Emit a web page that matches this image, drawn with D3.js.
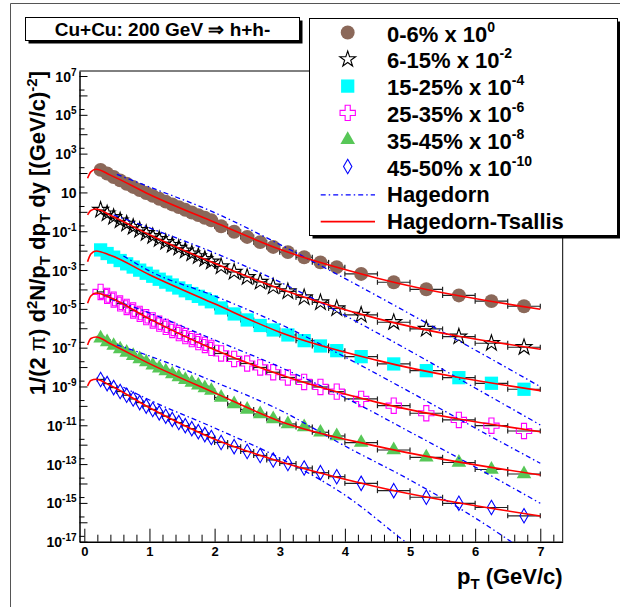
<!DOCTYPE html>
<html>
<head>
<meta charset="utf-8">
<script src="https://cdn.jsdelivr.net/npm/d3@7"></script>
<style>
body { margin: 0; background: #fff; }
text { font-family: "Liberation Sans", Arial, Helvetica, sans-serif; font-weight: bold; }
</style>
</head>
<body>
<div id="chart"></div>
<script>
// ---- data ----
var pt = [0.25, 0.35, 0.45, 0.55, 0.65, 0.75, 0.85, 0.95, 1.05, 1.15, 1.25, 1.35, 1.45, 1.55, 1.65, 1.75, 1.85, 1.95,
          2.1, 2.3, 2.5, 2.7, 2.9, 3.125, 3.375, 3.625, 3.875, 4.25, 4.75, 5.25, 5.75, 6.25, 6.75];
var ptErr = [0.05, 0.05, 0.05, 0.05, 0.05, 0.05, 0.05, 0.05, 0.05, 0.05, 0.05, 0.05, 0.05, 0.05, 0.05, 0.05, 0.05, 0.05,
             0.1, 0.1, 0.1, 0.1, 0.1, 0.125, 0.125, 0.125, 0.125, 0.25, 0.25, 0.25, 0.25, 0.25, 0.25];

var centLabels = ["0-6%", "6-15%", "15-25%", "25-35%", "35-45%", "45-50%"];
var scaleExp = [0, -2, -4, -6, -8, -10];

// invariant yields (unscaled)
var yield0_6 = [145, 94.2, 62.2, 41.6, 28.1, 19.2, 13.3, 9.31, 6.61, 4.68, 3.36, 2.40, 1.75, 1.27, 0.920, 0.676, 0.497, 0.365,
                0.181, 0.0942, 0.0508, 0.0274, 0.0155, 0.00837, 0.00457, 0.00249, 0.00141, 6.30e-4, 2.35e-4, 1.02e-4, 4.91e-5, 2.49e-5, 1.36e-5];
var yield6_15 = [125, 81.7, 53.3, 35.6, 24.0, 16.4, 11.4, 7.89, 5.52, 3.87, 2.74, 1.95, 1.38, 0.989, 0.710, 0.508, 0.369, 0.268,
                 0.153, 0.0798, 0.0426, 0.0244, 0.0139, 0.00789, 0.00387, 0.00214, 0.00105, 4.85e-4, 2.04e-4, 9.20e-5, 3.69e-5, 1.69e-5, 1.05e-5];
var yield15_25 = [109, 71.0, 46.2, 30.9, 20.9, 14.3, 9.89, 6.84, 4.79, 3.36, 2.38, 1.69, 1.19, 0.857, 0.615, 0.441, 0.320, 0.232,
                  0.111, 0.0546, 0.0268, 0.0139, 0.00817, 0.00452, 0.00230, 0.00122, 7.00e-4, 3.44e-4, 1.45e-4, 6.52e-5, 2.84e-5, 1.46e-5, 7.18e-6];
var yield25_35 = [74.3, 46.8, 29.8, 19.2, 12.5, 8.28, 5.52, 3.73, 2.52, 1.73, 1.18, 0.817, 0.566, 0.396, 0.277, 0.195, 0.138, 0.0977,
                  0.0502, 0.0262, 0.0153, 0.00953, 0.00540, 0.00291, 0.00171, 9.42e-4, 5.40e-4, 2.27e-4, 1.02e-4, 4.16e-5, 1.88e-5, 9.52e-6, 5.08e-6];
var yield35_45 = [30.5, 19.7, 12.8, 8.47, 5.66, 3.82, 2.62, 1.81, 1.25, 0.877, 0.615, 0.436, 0.309, 0.221, 0.159, 0.115, 0.0838, 0.0608,
                  0.0271, 0.0125, 0.00652, 0.00382, 0.00211, 0.00117, 8.17e-4, 4.35e-4, 2.81e-4, 1.27e-4, 5.33e-5, 2.24e-5, 1.21e-5, 5.27e-6, 3.09e-6];
var yield45_50 = [23.0, 14.1, 8.77, 5.52, 3.52, 2.27, 1.48, 0.977, 0.652, 0.436, 0.294, 0.201, 0.138, 0.0953, 0.0668, 0.0468, 0.0332, 0.0235,
                  0.0130, 0.00789, 0.00446, 0.00277, 0.00163, 0.00107, 6.30e-4, 3.61e-4, 2.24e-4, 1.02e-4, 4.26e-5, 1.95e-5, 9.52e-6, 5.79e-6, 2.16e-6];

// Hagedorn-Tsallis fit, sampled off the red curves
var tsPt = [0.05, 0.1, 0.18, 0.4, 1, 2, 3, 4.5, 7];
var ts0_6   = [54.0, 114, 157, 78.0, 7.89, 0.288, 0.0118, 3.82e-4, 9.52e-6];
var ts6_15  = [69.2, 118, 141, 66.1, 6.61, 0.221, 0.0109, 3.13e-4, 8.28e-6];
var ts15_25 = [27.1, 67.6, 96.6, 57.3, 5.73, 0.181, 0.00630, 2.21e-4, 6.08e-6];
var ts25_35 = [19.5, 46.2, 66.1, 37.3, 3.05, 0.0780, 0.00410, 1.51e-4, 4.68e-6];
var ts35_45 = [13.8, 29.8, 35.6, 15.9, 1.50, 0.0468, 0.00163, 8.17e-5, 2.74e-6];
var ts45_50 = [10.6, 20.4, 23.5, 11.1, 0.798, 0.0192, 0.00136, 6.61e-5, 2.11e-6];

// Hagedorn fit, sampled off the blue dash-dot curves
var hagStart = [0.5, 0.45, 0.6, 0.4, 0.5, 0.6];
var hagPt = [1, 2, 3, 4, 5, 6, 7];
var hag0_6   = [84.7, 19.2, 0.910, 0.0209, 3.69e-4, 5.46e-6, 7.60e-8, 9.77e-10];
var hag6_15  = [69.2, 14.8, 0.760, 0.0244, 4.57e-4, 6.76e-6, 8.38e-8, 1.04e-9];
var hag15_25 = [53.3, 8.99, 0.462, 0.0167, 3.32e-4, 5.20e-6, 7.26e-8, 1.10e-9];
var hag25_35 = [32.4, 6.15, 0.249, 0.0101, 2.71e-4, 4.52e-6, 7.10e-8, 9.53e-10];
var hag35_45 = [13.8, 3.73, 0.171, 0.00615, 8.57e-5, 1.51e-6, 1.67e-8, 9.00e-11];
var hag45_50 = [9.10, 2.01, 0.0726, 0.00206, 2.55e-5, 6.37e-8, 2.55e-10];

var yields = [yield0_6, yield6_15, yield15_25, yield25_35, yield35_45, yield45_50];
var tsFits = [ts0_6, ts6_15, ts15_25, ts25_35, ts35_45, ts45_50];
var hagFits = [hag0_6, hag6_15, hag15_25, hag25_35, hag35_45, hag45_50];

// ---- styles ----
var markers = [
    {type: d3.symbolCircle,   size: 152, fill: "#8b6859", stroke: "none"},
    {type: d3.symbolStar,     size: 78,  fill: "none",    stroke: "#000"},
    {type: d3.symbolSquare,   size: 176, fill: "#00ffff", stroke: "none"},
    {type: d3.symbolCross,    size: 130, fill: "none",    stroke: "#ff00ff"},
    {type: d3.symbolTriangle, size: 92,  fill: "#57c757", stroke: "none"},
    {type: d3.symbolDiamond,  size: 60,  fill: "none",    stroke: "#0000ff"}
];
var hagColor = "#0000ff", tsColor = "#ff0000";

var W = 620, H = 607;
var svg = d3.select("#chart").append("svg").attr("width", W).attr("height", H);

// canvas border (only left/top visible)
svg.append("path").attr("d", "M10.5,607V3.5H620").attr("fill", "none").attr("stroke", "#555");

var x = d3.scaleLinear().domain([-0.074, 7.344]).range([79.5, 562.7]);
var y = d3.scaleLog().domain([1e-17, Math.pow(10, 7.258)]).range([541.7, 71]);

svg.append("clipPath").attr("id", "plotclip").append("rect")
    .attr("x", x.range()[0]).attr("y", y.range()[1])
    .attr("width", x.range()[1] - x.range()[0]).attr("height", y.range()[0] - y.range()[1]);

// frame top / right
svg.append("path")
    .attr("d", "M" + x.range()[0] + "," + y.range()[1] + "H" + x.range()[1] + "V" + y.range()[0])
    .attr("fill", "none").attr("stroke", "#000");

// x axis
var xMinor = d3.range(0, 7.3, 0.2).filter(function(v){ return Math.abs(v - Math.round(v)) > 0.01; });
svg.append("g").attr("transform", "translate(0," + y.range()[0] + ")")
    .call(d3.axisBottom(x).tickValues(xMinor).tickSize(-7).tickSizeOuter(0).tickFormat(""))
    .call(function(g){ g.select(".domain").remove(); });
var gx = svg.append("g").attr("transform", "translate(0," + y.range()[0] + ")")
    .call(d3.axisBottom(x).tickValues(d3.range(0, 8)).tickSize(-13).tickSizeOuter(0).tickPadding(5).tickFormat(d3.format("d")));
gx.select(".domain").attr("stroke-width", 1.5);
gx.selectAll("text").attr("font-size", 13);

// y axis
var decades = d3.range(-17, 8).map(function(e){ return Math.pow(10, e); });
var twos = d3.range(-17, 7).map(function(e){ return 2 * Math.pow(10, e); });
svg.append("g").attr("transform", "translate(" + x.range()[0] + ",0)")
    .call(d3.axisLeft(y).tickValues(twos).tickSize(-5).tickSizeOuter(0).tickFormat(""))
    .call(function(g){ g.select(".domain").remove(); });
var gy = svg.append("g").attr("transform", "translate(" + x.range()[0] + ",0)")
    .call(d3.axisLeft(y).tickValues(decades).tickSize(-8).tickSizeOuter(0).tickFormat(""));
gy.select(".domain").attr("stroke-width", 1.5);
gy.selectAll(".tick text").remove();
gy.selectAll(".tick").each(function(d){
    var e = Math.round(Math.log10(d));
    if (Math.abs(e) % 2 !== 1) return;
    var t = d3.select(this).append("text").attr("x", -3).attr("y", 5)
        .attr("text-anchor", "end").attr("fill", "#000").attr("font-size", 14);
    t.append("tspan").text("10");
    if (e !== 1) t.append("tspan").attr("dy", -6).attr("font-size", 10).text(e);
});

// data
var plot = svg.append("g");
yields.forEach(function(vals, i){
    var sc = Math.pow(10, scaleExp[i]);
    var pts = pt.map(function(p, k){ return {x: p, e: ptErr[k], v: vals[k] * sc}; });
    var eb = plot.append("g").attr("stroke", "#222").attr("stroke-width", 1.2);
    pts.forEach(function(d){
        var yy = y(d.v);
        eb.append("line").attr("x1", x(d.x - d.e)).attr("x2", x(d.x + d.e)).attr("y1", yy).attr("y2", yy);
        eb.append("line").attr("x1", x(d.x - d.e)).attr("x2", x(d.x - d.e)).attr("y1", yy - 2.5).attr("y2", yy + 2.5);
        eb.append("line").attr("x1", x(d.x + d.e)).attr("x2", x(d.x + d.e)).attr("y1", yy - 2.5).attr("y2", yy + 2.5);
    });
});
yields.forEach(function(vals, i){
    var sc = Math.pow(10, scaleExp[i]);
    var m = markers[i];
    plot.append("g").selectAll("path").data(pt).enter().append("path")
        .attr("transform", function(p, k){ return "translate(" + x(p) + "," + y(vals[k] * sc) + ")"; })
        .attr("d", d3.symbol().type(m.type).size(m.size))
        .attr("fill", m.fill).attr("stroke", m.stroke).attr("stroke-width", 1.1);
});

// fits
var line = d3.line().x(function(d){ return x(d[0]); }).y(function(d){ return y(d[1]); }).curve(d3.curveMonotoneX);
var curves = svg.append("g").attr("clip-path", "url(#plotclip)");
hagFits.forEach(function(vals, i){
    var sc = Math.pow(10, scaleExp[i]);
    var xs = [hagStart[i]].concat(hagPt);
    var d = vals.map(function(v, k){ return [xs[k], v * sc]; });
    curves.append("path").attr("d", line(d)).attr("fill", "none")
        .attr("stroke", hagColor).attr("stroke-width", 1.3).attr("stroke-dasharray", "5,3,1.5,3");
});
tsFits.forEach(function(vals, i){
    var sc = Math.pow(10, scaleExp[i]);
    var d = vals.map(function(v, k){ return [tsPt[k], v * sc]; });
    curves.append("path").attr("d", line(d)).attr("fill", "none")
        .attr("stroke", tsColor).attr("stroke-width", 1.6);
});

// axis titles
var xt = svg.append("text").attr("x", x.range()[1]).attr("y", 583.5).attr("text-anchor", "end").attr("font-size", 22);
xt.append("tspan").text("p");
xt.append("tspan").attr("dy", 5).attr("font-size", 15).text("T");
xt.append("tspan").attr("dy", -5).text(" (GeV/c)");

var yt = svg.append("text").attr("transform", "translate(45," + y.range()[1] + ") rotate(-90)")
    .attr("text-anchor", "end").attr("font-size", 22);
yt.append("tspan").text("1/(2 ");
yt.append("tspan").attr("font-weight", "normal").text("\u03c0");
yt.append("tspan").text(") d");
yt.append("tspan").attr("dy", -8).attr("font-size", 15).text("2");
yt.append("tspan").attr("dy", 8).text("N/p");
yt.append("tspan").attr("dy", 5).attr("font-size", 15).text("T");
yt.append("tspan").attr("dy", -5).text(" dp");
yt.append("tspan").attr("dy", 5).attr("font-size", 15).text("T");
yt.append("tspan").attr("dy", -5).text(" dy [(GeV/c)");
yt.append("tspan").attr("dy", -8).attr("font-size", 15).text("-2");
yt.append("tspan").attr("dy", 8).text("]");

// title box
svg.append("rect").attr("x", 28.5).attr("y", 20.5).attr("width", 274).attr("height", 23).attr("fill", "#000");
svg.append("rect").attr("x", 25.5).attr("y", 17.5).attr("width", 274).attr("height", 23)
    .attr("fill", "#fff").attr("stroke", "#000");
svg.append("text").attr("x", 162.5).attr("y", 35.5).attr("text-anchor", "middle").attr("font-size", 19)
    .text("Cu+Cu: 200 GeV \u21d2 h+h-");

// legend
var lg = svg.append("g");
lg.append("rect").attr("x", 312.5).attr("y", 21.5).attr("width", 308).attr("height", 217).attr("fill", "#000");
lg.append("rect").attr("x", 309.5).attr("y", 18.5).attr("width", 308).attr("height", 217)
    .attr("fill", "#fff").attr("stroke", "#000");
centLabels.forEach(function(lab, i){
    var ry = 34 + i * 26.8;
    var m = markers[i];
    lg.append("path").attr("transform", "translate(347.7," + (ry - 1.5) + ")")
        .attr("d", d3.symbol().type(m.type).size(m.size))
        .attr("fill", m.fill).attr("stroke", m.stroke).attr("stroke-width", 1.1);
    var t = lg.append("text").attr("x", 387).attr("y", ry + 7.5).attr("font-size", 22);
    t.append("tspan").text(lab + " x 10");
    t.append("tspan").attr("dy", -10).attr("font-size", 14).text(scaleExp[i]);
});
var lineLabels = ["Hagedorn", "Hagedorn-Tsallis"];
lineLabels.forEach(function(lab, j){
    var ry = 34 + (6 + j) * 26.8;
    var l = lg.append("line").attr("x1", 320.7).attr("x2", 375).attr("y1", ry).attr("y2", ry);
    if (j === 0) l.attr("stroke", hagColor).attr("stroke-width", 1.3).attr("stroke-dasharray", "5,3,1.5,3");
    else l.attr("stroke", tsColor).attr("stroke-width", 1.6);
    lg.append("text").attr("x", 387).attr("y", ry + 7.5).attr("font-size", 22).text(lab);
});
</script>
</body>
</html>
